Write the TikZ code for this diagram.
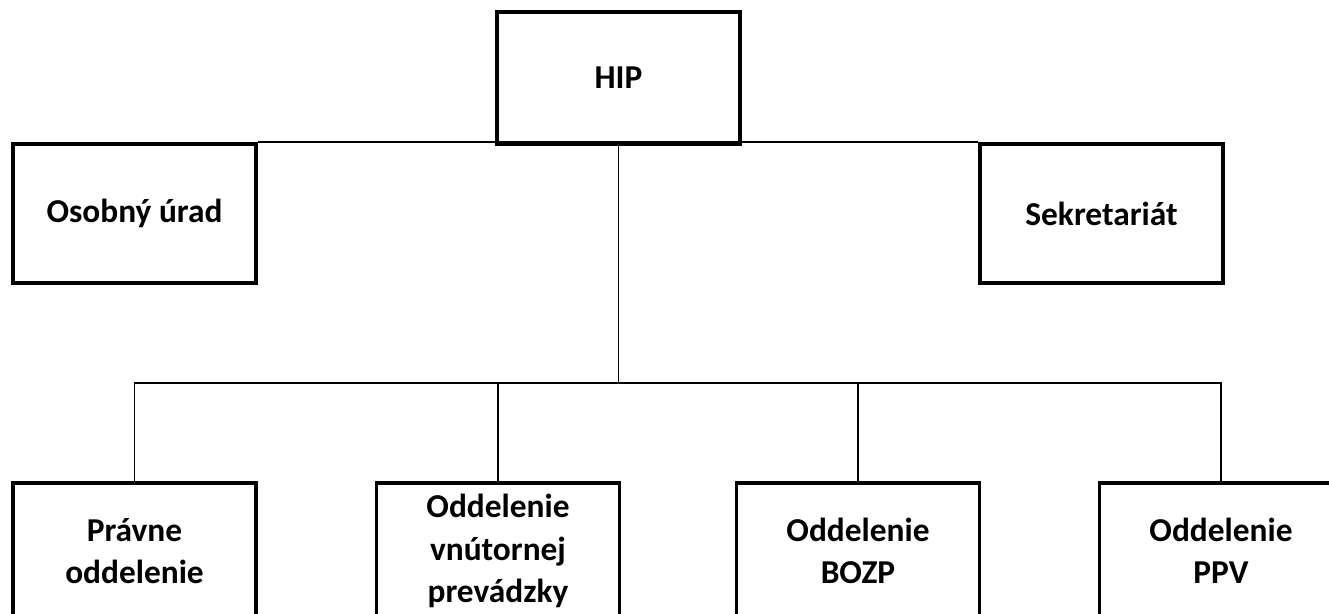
\documentclass[tikz,border=0pt]{standalone}
\usepackage{fontspec}
\setmainfont{Carlito}
\usepackage{tikz}
\usetikzlibrary{positioning, calc}

\begin{document}
\begin{tikzpicture}[x=0.02cm, y=-0.02cm,
  unit/.style={draw, line width=2.2pt, minimum width=243*0.02cm, align=center,
    font=\bfseries\fontsize{19}{24}\selectfont, inner sep=0pt},
  link/.style={line width=1pt}]
\useasboundingbox (0,0) rectangle (1329,614);
\clip (0,0) rectangle (1329,614);
\node[unit, minimum height=132*0.02cm] (hip) at (618.5,78) {HIP};
\node[unit, minimum height=139*0.02cm] (osobny) at (134.5,213.5) {Osobný úrad};
\node[unit, minimum height=139*0.02cm] (sekr) at (1101.5,213.5) {Sekretariát};
\node[unit, minimum height=136*0.02cm] (pravne) at (134.5,551) {Právne\\oddelenie};
\node[unit, minimum height=136*0.02cm] (vnut) at (498,551) {Oddelenie\\vnútornej\\prevádzky};
\node[unit, minimum height=136*0.02cm] (bozp) at (858,551) {Oddelenie\\BOZP};
\node[unit, minimum height=136*0.02cm] (ppv) at (1221,551) {Oddelenie\\PPV};
\coordinate (split) at (617,383);

\draw[link] (osobny.north east) -- (sekr.north west);
\draw[link] (hip.south) -- (hip.south |- split);
\draw[link] (pravne.north) |- (split) -| (ppv.north);
\draw[link] (vnut.north) -- (vnut.north |- split);
\draw[link] (bozp.north) -- (bozp.north |- split);
\end{tikzpicture}
\end{document}
